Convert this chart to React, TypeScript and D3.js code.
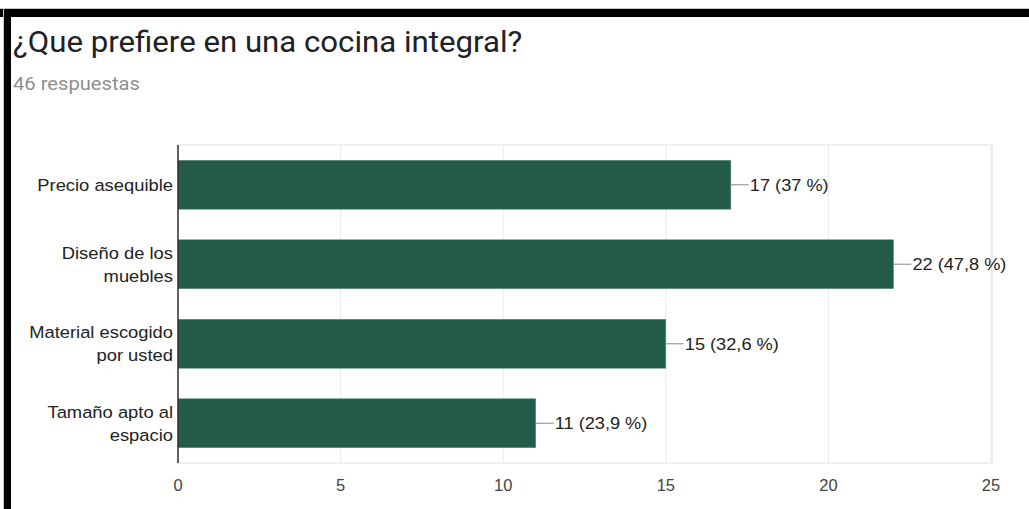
import React from "react";
import * as d3 from "d3";

const categories: string[][] = [
  ["Precio asequible"],
  ["Diseño de los", "muebles"],
  ["Material escogido", "por usted"],
  ["Tamaño apto al", "espacio"],
];
const counts: number[] = [17, 22, 15, 11];
const percents: string[] = ["37", "47,8", "32,6", "23,9"];
const xTicks: number[] = [0, 5, 10, 15, 20, 25];
const title = "¿Que prefiere en una cocina integral?";
const subtitle = "46 respuestas";

const W = 1029;
const H = 509;
const left = 178;
const right = 991;
const top = 145;
const bottom = 463;
const barColor = "#225b4a";
const labelFont = "'Liberation Sans', Arial, sans-serif";
const titleFont = "Roboto, 'Liberation Sans', Arial, sans-serif";

function T(props: {
  x: number;
  y: number;
  sx: number;
  size: number;
  fill: string;
  font: string;
  anchor?: string;
  children: React.ReactNode;
}) {
  return (
    <text
      transform={`translate(${props.x},${props.y}) scale(${props.sx},1)`}
      fontFamily={props.font}
      fontSize={props.size}
      fill={props.fill}
      textAnchor={props.anchor || "start"}
    >
      {props.children}
    </text>
  );
}

export default function App() {
  const x = d3.scaleLinear().domain([0, 25]).range([left, right]);
  const y = d3
    .scaleBand<number>()
    .domain(d3.range(categories.length))
    .range([top, bottom])
    .paddingInner(0.385)
    .paddingOuter(0.1925);

  return (
    <svg
      width={W}
      height={H}
      style={{ position: "absolute", left: 0, top: 0, background: "#fff" }}
    >
      <rect x={0} y={0} width={W} height={H} fill="#ffffff" />
      <rect x={0} y={8} width={W} height={1} fill="#c8c8c8" />
      <rect x={0} y={9} width={W} height={8} fill="#000" />
      <rect x={3} y={9} width={1} height={H - 9} fill="#c8c8c8" />
      <rect x={4} y={9} width={7} height={H - 9} fill="#000" />

      <T x={13} y={52} sx={1.04} size={30} fill="#202124" font={titleFont}>
        {title}
      </T>
      <T x={13} y={90} sx={1.12} size={18} fill="#8f8f8f" font={titleFont}>
        {subtitle}
      </T>

      <rect
        x={left}
        y={top}
        width={right - left + 1}
        height={bottom - top}
        fill="none"
        stroke="#efefef"
        strokeWidth={2}
      />
      {xTicks.slice(1).map((t) => (
        <line
          key={"g" + t}
          x1={x(t)}
          x2={x(t)}
          y1={top}
          y2={bottom}
          stroke="#ebebeb"
          strokeWidth={1}
        />
      ))}

      {counts.map((c, i) => {
        const y0 = y(i)!;
        const bw = y.bandwidth();
        const cy = y0 + bw / 2;
        const xe = x(c);
        return (
          <g key={"b" + i}>
            <rect
              x={x(0)}
              y={y0}
              width={xe - x(0)}
              height={bw}
              fill={barColor}
              stroke="#5e8a7c"
              strokeWidth={0.6}
            />
            <line x1={xe} x2={xe + 18} y1={cy} y2={cy} stroke="#9a9a9a" strokeWidth={1.2} />
            <T x={xe + 19} y={cy + 6} sx={1.07} size={17} fill="#222" font={labelFont}>
              {`${c} (${percents[i]} %)`}
            </T>
            {categories[i].map((line, j) => {
              const n = categories[i].length;
              const ly = cy + (j - (n - 1) / 2) * 23 + 6;
              return (
                <T
                  key={j}
                  x={173}
                  y={ly}
                  sx={1.08}
                  size={17}
                  fill="#222"
                  font={labelFont}
                  anchor="end"
                >
                  {line}
                </T>
              );
            })}
          </g>
        );
      })}

      <line x1={left} x2={left} y1={top} y2={bottom} stroke="#333" strokeWidth={1.5} />

      {xTicks.map((t) => (
        <T
          key={"t" + t}
          x={x(t)}
          y={491}
          sx={1}
          size={16.5}
          fill="#444"
          font={labelFont}
          anchor="middle"
        >
          {t}
        </T>
      ))}
    </svg>
  );
}
